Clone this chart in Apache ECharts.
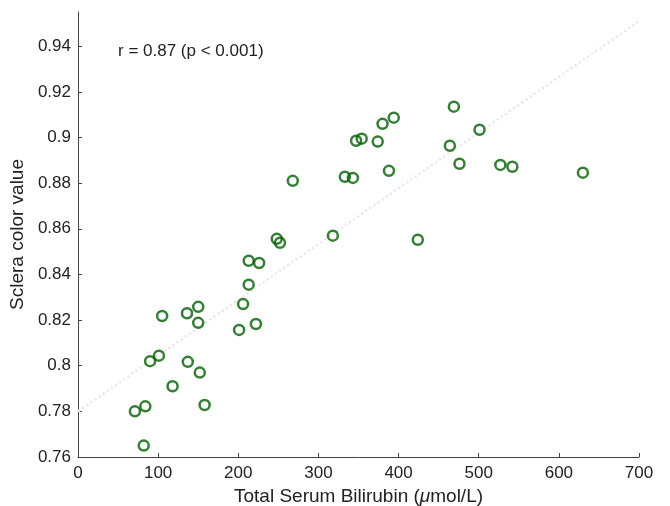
<!DOCTYPE html>
<html>
<head>
<meta charset="utf-8">
<script src="https://cdn.jsdelivr.net/npm/echarts@6/dist/echarts.min.js"></script>
<style>html,body{margin:0;padding:0;background:#fff;}#c{width:670px;height:506px;}</style>
</head>
<body>
<div id="c"></div>
<script>
var bilirubin = [71, 84, 82, 90, 101, 105, 118, 137, 136, 150, 150, 152, 158, 201, 206, 213, 213, 226, 222, 248, 252, 268, 318, 333, 343, 347, 354, 374, 380, 394, 388, 424, 464, 469, 476, 501, 527, 542, 630];
var scleraValue = [0.780, 0.7822, 0.765, 0.802, 0.8044, 0.8218, 0.791, 0.8017, 0.823, 0.8258, 0.8188, 0.797, 0.7828, 0.8157, 0.827, 0.8355, 0.846, 0.845, 0.8183, 0.8556, 0.8539, 0.881, 0.857, 0.8828, 0.8823, 0.8986, 0.8995, 0.8982, 0.906, 0.9087, 0.8854, 0.8552, 0.8964, 0.9135, 0.8885, 0.9034, 0.888, 0.8872, 0.8846];
var fitX = [0, 700];
var fitY = [0.78, 0.951];
var xTicks = [0, 100, 200, 300, 400, 500, 600, 700];
var yTicks = [0.76, 0.78, 0.80, 0.82, 0.84, 0.86, 0.88, 0.90, 0.92, 0.94];
var annotation = 'r = 0.87 (p < 0.001)';

var pts = bilirubin.map(function (x, i) { return [x, scleraValue[i]]; });
var fit = fitX.map(function (x, i) { return [x, fitY[i]]; });
var font = 'Liberation Sans, Arial, sans-serif';

var chart = echarts.init(document.getElementById('c'));
chart.setOption({
  backgroundColor: '#fff',
  animation: false,
  title: {
    text: annotation,
    left: 113, top: 38,
    textStyle: { fontFamily: font, fontSize: 17, fontWeight: 'normal', color: '#222' }
  },
  grid: { left: 78, right: 31, top: 12, bottom: 49, containLabel: false, outerBoundsMode: 'none' },
  xAxis: {
    type: 'value', min: 0, max: 700, interval: 100,
    name: '{n|Total Serum Bilirubin (}{i|μ}{n|mol/L)}',
    nameLocation: 'middle', nameGap: 28,
    nameTextStyle: {
      rich: {
        n: { fontFamily: font, fontSize: 19, color: '#222' },
        i: { fontFamily: font, fontSize: 19, color: '#222', fontStyle: 'italic' }
      }
    },
    axisLine: { lineStyle: { color: '#444', width: 1 } },
    axisTick: { inside: true, length: 4, lineStyle: { color: '#444' }, customValues: xTicks },
    axisLabel: { fontFamily: font, fontSize: 17, color: '#222', margin: 8, customValues: xTicks },
    splitLine: { show: false }
  },
  yAxis: {
    type: 'value', min: 0.76, max: 0.955,
    name: 'Sclera color value',
    nameLocation: 'middle', nameGap: 48,
    nameTextStyle: { fontFamily: font, fontSize: 19, color: '#222' },
    axisLine: { show: true, lineStyle: { color: '#444', width: 1 } },
    axisTick: { show: true, inside: true, length: 4, lineStyle: { color: '#444' }, customValues: yTicks },
    axisLabel: {
      fontFamily: font, fontSize: 17, color: '#222', margin: 7,
      customValues: yTicks,
      formatter: function (v) { return String(+v.toFixed(2)); }
    },
    splitLine: { show: false }
  },
  series: [
    {
      type: 'line', data: fit, symbol: 'none', silent: true,
      lineStyle: { color: '#ebebeb', width: 2.5, type: 'dotted' }, z: 1
    },
    {
      type: 'scatter', data: pts, symbol: 'circle', symbolSize: 10,
      itemStyle: { color: 'rgba(0,0,0,0)', borderColor: '#006000', borderWidth: 2.5 }, z: 2
    }
  ]
});
</script>
</body>
</html>
